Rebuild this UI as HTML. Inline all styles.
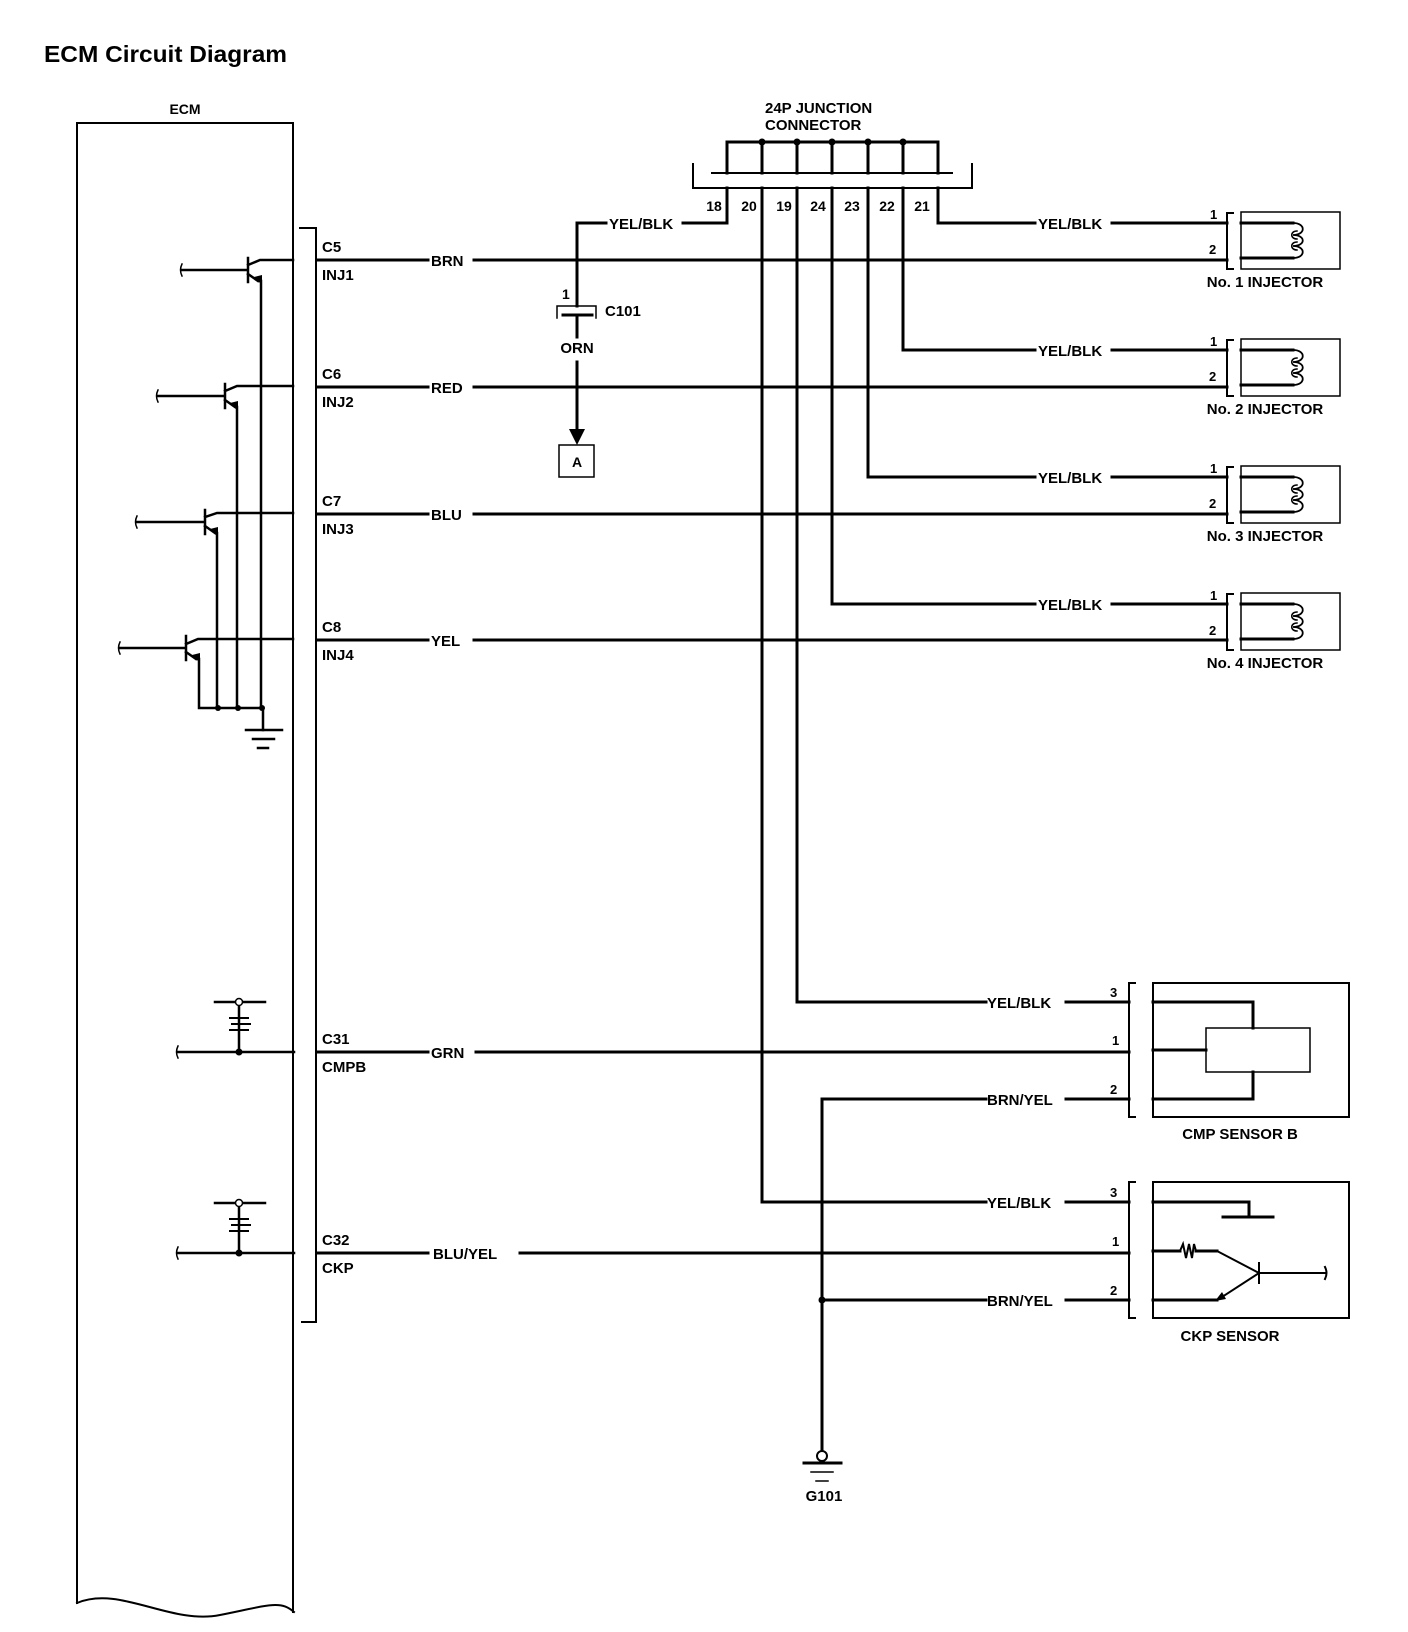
<!DOCTYPE html>
<html><head><meta charset="utf-8"><style>
html,body{margin:0;padding:0;background:#fff;}
svg{display:block;}
text{font-family:"Liberation Sans",Arial,sans-serif;font-weight:bold;fill:#000;}
</style></head><body>
<svg width="1408" height="1632" viewBox="0 0 1408 1632" xmlns="http://www.w3.org/2000/svg">
<g fill="none" stroke="#000" stroke-linecap="square">
<!-- ECM box -->
<path d="M77 1603 V123 H293 V1612" stroke-width="2"/>
<path d="M77 1603 C120 1585 170 1625 220 1615 S280 1600 294 1612" stroke-width="2"/>
<!-- connector bracket -->
<path d="M300 228 H316 V1322 H302" stroke-width="2"/>

<!-- transistors C5..C8 -->
<g stroke-width="2.5">
<!-- C5 -->
<path d="M182 270 H248 M248 258 V282 M248 265 L260 260 H293"/>
<path d="M248 274 L258 281 M261 281 V708"/>
<!-- C6 -->
<path d="M158 396 H225 M225 384 V408 M225 391 L237 386 H293"/>
<path d="M225 400 L235 407 M237 407 V708"/>
<!-- C7 -->
<path d="M137 522 H205 M205 510 V534 M205 517 L217 513 H293"/>
<path d="M205 526 L215 533 M217 533 V708"/>
<!-- C8 -->
<path d="M120 648 H186 M186 636 V660 M186 644 L198 639 H293"/>
<path d="M186 652 L196 659 M199 659 V708 H263 V730"/>
<path d="M246 730 H282 M253 739 H274 M258 748 H268"/>
<path d="M182 264 q-3 6 0 12 M158 390 q-3 6 0 12 M137 516 q-3 6 0 12 M120 642 q-3 6 0 12" stroke-width="1.5"/>
</g>
<g fill="#000" stroke="none">
<polygon points="262,285 254,277 262,275"/>
<polygon points="238,411 230,403 238,401"/>
<polygon points="218,537 210,529 218,527"/>
<polygon points="200,663 192,655 200,653"/>
<circle cx="218" cy="708" r="3"/><circle cx="238" cy="708" r="3"/><circle cx="262" cy="708" r="3"/>
</g>

<!-- main ECM output wires -->
<g stroke-width="3">
<path d="M317 260 H428 M474 260 H1227"/>
<path d="M317 387 H428 M474 387 H1227"/>
<path d="M317 514 H428 M474 514 H1227"/>
<path d="M317 640 H428 M474 640 H1227"/>
<path d="M317 1052 H428 M476 1052 H1129"/>
<path d="M317 1253 H428 M520 1253 H1129"/>
</g>

<!-- C31/C32 input circuits -->
<g stroke-width="2.5">
<path d="M178 1052 H294 M239 1052 V1006 M215 1002 H235 M243 1002 H265"/>
<path d="M178 1253 H294 M239 1253 V1207 M215 1203 H235 M243 1203 H265"/>
<path d="M178 1046 q-3 6 0 12 M178 1247 q-3 6 0 12" stroke-width="1.5"/>
<path d="M230 1018 H248 M232 1024 H250 M230 1030 H248 M230 1219 H248 M232 1225 H250 M230 1231 H248" stroke-width="2"/>
</g>
<g fill="#000" stroke="none"><circle cx="239" cy="1052" r="3.5"/><circle cx="239" cy="1253" r="3.5"/></g>
<circle cx="239" cy="1002" r="3.5" fill="#fff" stroke-width="1.5"/>
<circle cx="239" cy="1203" r="3.5" fill="#fff" stroke-width="1.5"/>

<!-- 24P junction connector -->
<path d="M727 173 V142 H938 V173" stroke-width="3"/>
<path d="M762 142 V173 M797 142 V173 M832 142 V173 M868 142 V173 M903 142 V173" stroke-width="3"/>
<path d="M712 173 H952" stroke-width="2"/>
<path d="M693 164 V188 H972 V164" stroke-width="2"/>
<g fill="#000" stroke="none">
<circle cx="762" cy="142" r="3.5"/><circle cx="797" cy="142" r="3.5"/><circle cx="832" cy="142" r="3.5"/><circle cx="868" cy="142" r="3.5"/><circle cx="903" cy="142" r="3.5"/>
</g>
<g stroke-width="3">
<path d="M727 188 V223 H683 M606 223 H577 V306"/>
<path d="M938 188 V223 H1035"/>
<path d="M762 188 V1202 H986 M1066 1202 H1129"/>
<path d="M797 188 V1002 H986 M1066 1002 H1129"/>
<path d="M832 188 V604 H1035"/>
<path d="M868 188 V477 H1035"/>
<path d="M903 188 V350 H1035"/>
<path d="M822 1099 V1450"/>
<path d="M822 1099 H986 M1066 1099 H1129"/>
<path d="M822 1300 H986 M1066 1300 H1129"/>
</g>
<circle cx="822" cy="1300" r="3.5" fill="#000" stroke="none"/>

<!-- C101 -->
<path d="M557 318 V306 H596 V318" stroke-width="1.5"/>
<path d="M563 315 H592 M577 315 V337 M577 362 V430" stroke-width="3"/>
<polygon points="569,429 585,429 577,445" fill="#000" stroke="none"/>
<rect x="559" y="445" width="35" height="32" stroke-width="1.5"/>

<!-- G101 -->
<circle cx="822" cy="1456" r="5" stroke-width="2"/>
<path d="M804 1463 H841" stroke-width="3"/>
<path d="M811 1472 H833 M816 1481 H828" stroke-width="1.5"/>

<!-- injectors -->
<g id="inj">
<path d="M1112 223 H1227" stroke-width="3"/>
<path d="M1233 213 H1227 V269 H1233" stroke-width="2"/>
<rect x="1241" y="212" width="99" height="57" stroke-width="1.5"/>
<path d="M1241 223 H1293 M1241 258 H1293" stroke-width="3"/>
<path d="M1293 223 C1306 223 1306 235 1293 235 C1306 235 1306 246 1293 246 C1306 246 1306 258 1293 258" stroke-width="1.8"/>
<path d="M1297 231 C1290 231 1290 239 1297 239 M1297 242 C1290 242 1290 250 1297 250" stroke-width="1.5"/>
</g>
<g transform="translate(0,127)">
<path d="M1112 223 H1227" stroke-width="3"/>
<path d="M1233 213 H1227 V269 H1233" stroke-width="2"/>
<rect x="1241" y="212" width="99" height="57" stroke-width="1.5"/>
<path d="M1241 223 H1293 M1241 258 H1293" stroke-width="3"/>
<path d="M1293 223 C1306 223 1306 235 1293 235 C1306 235 1306 246 1293 246 C1306 246 1306 258 1293 258" stroke-width="1.8"/>
<path d="M1297 231 C1290 231 1290 239 1297 239 M1297 242 C1290 242 1290 250 1297 250" stroke-width="1.5"/>
</g>
<g transform="translate(0,254)">
<path d="M1112 223 H1227" stroke-width="3"/>
<path d="M1233 213 H1227 V269 H1233" stroke-width="2"/>
<rect x="1241" y="212" width="99" height="57" stroke-width="1.5"/>
<path d="M1241 223 H1293 M1241 258 H1293" stroke-width="3"/>
<path d="M1293 223 C1306 223 1306 235 1293 235 C1306 235 1306 246 1293 246 C1306 246 1306 258 1293 258" stroke-width="1.8"/>
<path d="M1297 231 C1290 231 1290 239 1297 239 M1297 242 C1290 242 1290 250 1297 250" stroke-width="1.5"/>
</g>
<g transform="translate(0,381)">
<path d="M1112 223 H1227" stroke-width="3"/>
<path d="M1233 213 H1227 V269 H1233" stroke-width="2"/>
<rect x="1241" y="212" width="99" height="57" stroke-width="1.5"/>
<path d="M1241 223 H1293 M1241 258 H1293" stroke-width="3"/>
<path d="M1293 223 C1306 223 1306 235 1293 235 C1306 235 1306 246 1293 246 C1306 246 1306 258 1293 258" stroke-width="1.8"/>
<path d="M1297 231 C1290 231 1290 239 1297 239 M1297 242 C1290 242 1290 250 1297 250" stroke-width="1.5"/>
</g>

<!-- CMP sensor -->
<path d="M1135 983 H1129 V1117 H1135" stroke-width="2"/>
<rect x="1153" y="983" width="196" height="134" stroke-width="2"/>
<path d="M1153 1002 H1253 V1028 M1153 1099 H1253 V1072 M1153 1050 H1206" stroke-width="3"/>
<rect x="1206" y="1028" width="104" height="44" stroke-width="1.5"/>

<!-- CKP sensor -->
<path d="M1135 1182 H1129 V1318 H1135" stroke-width="2"/>
<rect x="1153" y="1182" width="196" height="136" stroke-width="2"/>
<path d="M1153 1202 H1249 V1217 M1223 1217 H1273" stroke-width="3"/>
<path d="M1153 1251 H1180 M1196 1251 H1217 M1153 1300 H1217" stroke-width="3"/>
<path d="M1180 1251 L1183 1244 L1186 1258 L1189 1244 L1192 1258 L1194 1244 L1196 1251" stroke-width="2"/>
<path d="M1217 1251 L1259 1273 H1325 M1259 1263 V1283 M1325 1267 q3 6 0 12 M1259 1273 L1222 1297" stroke-width="2"/>
<polygon points="1215,1301 1222,1292 1226,1299" fill="#000" stroke="none"/>
</g>

<!-- TEXT -->
<text x="44" y="62" font-size="23" textLength="243" lengthAdjust="spacingAndGlyphs">ECM Circuit Diagram</text>
<text x="185" y="114" font-size="14" text-anchor="middle">ECM</text>

<g font-size="15">
<text x="322" y="252">C5</text><text x="322" y="280">INJ1</text><text x="431" y="266">BRN</text>
<text x="322" y="379">C6</text><text x="322" y="407">INJ2</text><text x="431" y="393">RED</text>
<text x="322" y="506">C7</text><text x="322" y="534">INJ3</text><text x="431" y="520">BLU</text>
<text x="322" y="632">C8</text><text x="322" y="660">INJ4</text><text x="431" y="646">YEL</text>
<text x="322" y="1044">C31</text><text x="322" y="1072">CMPB</text><text x="431" y="1058">GRN</text>
<text x="322" y="1245">C32</text><text x="322" y="1273">CKP</text><text x="433" y="1259">BLU/YEL</text>

<text x="609" y="229">YEL/BLK</text>
<text x="562" y="299" font-size="14">1</text>
<text x="605" y="316">C101</text>
<text x="577" y="353" text-anchor="middle">ORN</text>
<text x="577" y="467" text-anchor="middle" font-size="14">A</text>

<text x="765" y="113">24P JUNCTION</text>
<text x="765" y="130">CONNECTOR</text>
<g font-size="14" text-anchor="middle">
<text x="714" y="211">18</text><text x="749" y="211">20</text><text x="784" y="211">19</text><text x="818" y="211">24</text><text x="852" y="211">23</text><text x="887" y="211">22</text><text x="922" y="211">21</text>
</g>

<text x="1038" y="229">YEL/BLK</text>
<text x="1038" y="356">YEL/BLK</text>
<text x="1038" y="483">YEL/BLK</text>
<text x="1038" y="610">YEL/BLK</text>
<g font-size="13">
<text x="1210" y="219">1</text><text x="1209" y="254">2</text>
<text x="1210" y="346">1</text><text x="1209" y="381">2</text>
<text x="1210" y="473">1</text><text x="1209" y="508">2</text>
<text x="1210" y="600">1</text><text x="1209" y="635">2</text>
<text x="1110" y="997">3</text><text x="1112" y="1045">1</text><text x="1110" y="1094">2</text>
<text x="1110" y="1197">3</text><text x="1112" y="1246">1</text><text x="1110" y="1295">2</text>
</g>
<g text-anchor="middle">
<text x="1265" y="287">No. 1 INJECTOR</text>
<text x="1265" y="414">No. 2 INJECTOR</text>
<text x="1265" y="541">No. 3 INJECTOR</text>
<text x="1265" y="668">No. 4 INJECTOR</text>
<text x="1240" y="1139">CMP SENSOR B</text>
<text x="1230" y="1341">CKP SENSOR</text>
<text x="824" y="1501">G101</text>
</g>
<text x="987" y="1008">YEL/BLK</text>
<text x="987" y="1105">BRN/YEL</text>
<text x="987" y="1208">YEL/BLK</text>
<text x="987" y="1306">BRN/YEL</text>
</g>
</svg>
</body></html>
